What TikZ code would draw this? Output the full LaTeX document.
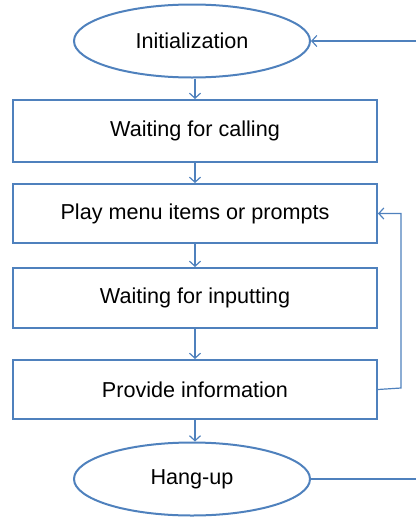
\documentclass[tikz,border=0pt]{standalone}
\usepackage{fontspec}
\setmainfont{Liberation Sans}
\usetikzlibrary{shapes.geometric,arrows.meta}
\definecolor{ln}{HTML}{4F81BD}
\begin{document}
\begin{tikzpicture}[x=1pt,y=-1pt,
  every node/.style={font=\fontsize{21.6}{25}\selectfont, text=black},
  oval/.style={draw=ln, line width=2pt, ellipse, minimum width=236pt, minimum height=73pt, inner sep=0pt},
  stepbox/.style={draw=ln, line width=2pt, rectangle, minimum width=364pt, inner sep=0pt},
  arr/.style={draw=ln, line width=1.2pt, -{Straight Barb[length=5pt,width=11pt,line width=1.2pt]}},
  ln/.style={draw=ln, line width=1.2pt}]
\useasboundingbox (0,0) rectangle (416,517);
\node[oval] (init) at (192,41) {Initialization};
\node[stepbox, minimum height=62pt] (b1) at (195,131) {Waiting for calling};
\node[stepbox, minimum height=59pt] (b2) at (195,213.5) {Play menu items or prompts};
\node[stepbox, minimum height=60pt] (b3) at (195,298) {Waiting for inputting};
\node[stepbox, minimum height=59pt] (b4) at (195,389.5) {Provide information};
\node[oval] (hang) at (192,479) {Hang-up};
\coordinate (r1) at (416,41);
\coordinate (r2) at (416,479);
\coordinate (fb) at (401,388);
\draw[arr] (init.south -| b1.north) -- (b1.north);
\draw[arr] (b1) -- (b2);
\draw[arr] (b2) -- (b3);
\draw[arr] (b3) -- (b4);
\draw[arr] (b4.south) -- (hang.north -| b4.south);
\draw[arr] (r1) -- (init.east);
\draw[ln] (hang.east) -- (r2);
\draw[arr] (b4.east) -- (fb) |- (b2.east);
\end{tikzpicture}
\end{document}
